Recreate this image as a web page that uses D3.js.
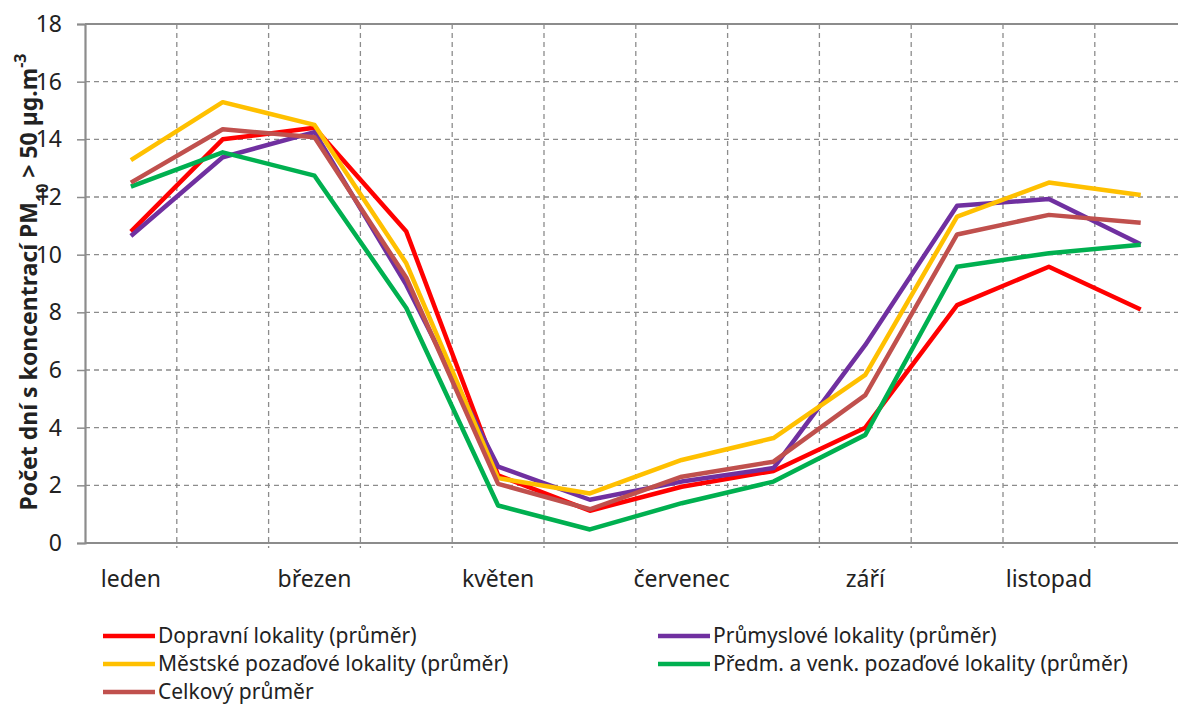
<!DOCTYPE html>
<html>
<head>
<meta charset="utf-8">
<script src="https://cdn.jsdelivr.net/npm/d3@7"></script>
<style>
  body { margin: 0; background: #fff; }
  text { font-family: "Noto Sans", "Open Sans", sans-serif; fill: #222; }
</style>
</head>
<body>
<script>
const w = 1178;
const h = 707;

// months (all 12 categories), only every other one gets a label
const months = ["leden", "únor", "březen", "duben", "květen", "červen",
                "červenec", "srpen", "září", "říjen", "listopad", "prosinec"];
const shownMonths = ["leden", "březen", "květen", "červenec", "září", "listopad"];
const yTicks = [0, 2, 4, 6, 8, 10, 12, 14, 16, 18];

const dopravni   = [10.8, 14.0, 14.4, 10.8, 2.35, 1.12, 1.95, 2.5, 4.0, 8.25, 9.58, 8.1];
const prumyslove = [10.65, 13.38, 14.25, 8.95, 2.65, 1.5, 2.13, 2.6, 6.87, 11.7, 11.93, 10.36];
const mestske    = [13.28, 15.29, 14.5, 9.7, 2.25, 1.72, 2.88, 3.64, 5.83, 11.32, 12.5, 12.07];
const predmestske = [12.36, 13.55, 12.74, 8.15, 1.3, 0.47, 1.38, 2.13, 3.75, 9.58, 10.05, 10.34];
const celkovy    = [12.5, 14.35, 14.07, 9.2, 2.05, 1.17, 2.3, 2.82, 5.13, 10.7, 11.38, 11.11];

const seriesNames = ["Dopravní lokality (průměr)", "Průmyslové lokality (průměr)",
                     "Městské pozaďové lokality (průměr)", "Předm. a venk. pozaďové lokality (průměr)",
                     "Celkový průměr"];
const seriesColors = ["#ff0000", "#7030a0", "#ffc000", "#00b050", "#c0504d"];
const seriesValues = [dopravni, prumyslove, mestske, predmestske, celkovy];

const plotLeft = 85, plotTop = 24, plotBottom = 543;
const band = 91.8;

var svg = d3.select("body").append("svg")
            .attr("width", w)
            .attr("height", h);

const xScale = d3.scaleBand()
                 .domain(months)
                 .range([plotLeft, plotLeft + band * months.length])
                 .padding(0);

const yScale = d3.scaleLinear()
                 .domain([0, 18])
                 .range([plotBottom, plotTop]);

const grid = svg.append("g");

// horizontal dashed gridlines
grid.selectAll("line.hg")
    .data(yTicks.filter(d => d > 0 && d < 18))
    .enter()
    .append("line")
    .attr("x1", plotLeft).attr("x2", w)
    .attr("y1", d => yScale(d)).attr("y2", d => yScale(d))
    .attr("stroke", "#8c8c8c")
    .attr("stroke-width", 1.3)
    .attr("stroke-dasharray", "5,4");

// vertical dashed gridlines at category boundaries
grid.selectAll("line.vg")
    .data(months.slice(1))
    .enter()
    .append("line")
    .attr("x1", d => xScale(d)).attr("x2", d => xScale(d))
    .attr("y1", plotTop).attr("y2", plotBottom + 5)
    .attr("stroke", "#8c8c8c")
    .attr("stroke-width", 1.3)
    .attr("stroke-dasharray", "5,4");

// top border
svg.append("line")
   .attr("x1", plotLeft).attr("x2", w)
   .attr("y1", plotTop).attr("y2", plotTop)
   .attr("stroke", "#8c8c8c").attr("stroke-width", 2.2);

// y axis
const yAxis = d3.axisLeft(yScale)
                .tickValues(yTicks)
                .tickSize(8)
                .tickPadding(15);

const yg = svg.append("g")
   .attr("transform", "translate(" + plotLeft + ",0)")
   .call(yAxis);
yg.select(".domain").attr("stroke", "#8c8c8c").attr("stroke-width", 2.2);
yg.selectAll(".tick line").attr("stroke", "#8c8c8c").attr("stroke-width", 1.5);
yg.selectAll(".tick text")
  .attr("font-size", 23)
  .attr("font-family", "Noto Sans")
  .attr("fill", "#222");

// x axis line
svg.append("line")
   .attr("x1", plotLeft).attr("x2", w)
   .attr("y1", plotBottom).attr("y2", plotBottom)
   .attr("stroke", "#8c8c8c").attr("stroke-width", 2.2);

// month labels
svg.selectAll("text.month")
   .data(shownMonths)
   .enter()
   .append("text")
   .attr("class", "month")
   .attr("x", d => xScale(d) + xScale.bandwidth() / 2)
   .attr("y", 587)
   .attr("text-anchor", "middle")
   .attr("font-size", 23)
   .text(d => d);

// series lines
const line = d3.line()
               .x((d, i) => xScale(months[i]) + xScale.bandwidth() / 2)
               .y(d => yScale(d));

seriesValues.forEach((vals, k) => {
  svg.append("path")
     .datum(vals)
     .attr("d", line)
     .attr("fill", "none")
     .attr("stroke", seriesColors[k])
     .attr("stroke-width", 4.5)
     .attr("stroke-linejoin", "round");
});

// y axis title
const title = svg.append("text")
   .attr("transform", "translate(37,282) rotate(-90)")
   .attr("text-anchor", "middle")
   .attr("font-size", 23)
   .attr("font-weight", "bold");
title.append("tspan").text("Počet dní s koncentrací PM");
title.append("tspan").text("10").attr("baseline-shift", "sub").attr("font-size", 16);
title.append("tspan").text(" > 50 µg.m");
title.append("tspan").text("-3").attr("baseline-shift", "super").attr("font-size", 16);

// legend
const legendPos = [
  {x: 103, y: 636}, {x: 658, y: 636},
  {x: 103, y: 664}, {x: 658, y: 664},
  {x: 103, y: 692}
];

seriesNames.forEach((name, k) => {
  const p = legendPos[k];
  svg.append("line")
     .attr("x1", p.x).attr("x2", p.x + 52)
     .attr("y1", p.y).attr("y2", p.y)
     .attr("stroke", seriesColors[k])
     .attr("stroke-width", 4.5);
  svg.append("text")
     .attr("x", p.x + 55)
     .attr("y", p.y + 7)
     .attr("font-size", 21)
     .text(name);
});
</script>
</body>
</html>
